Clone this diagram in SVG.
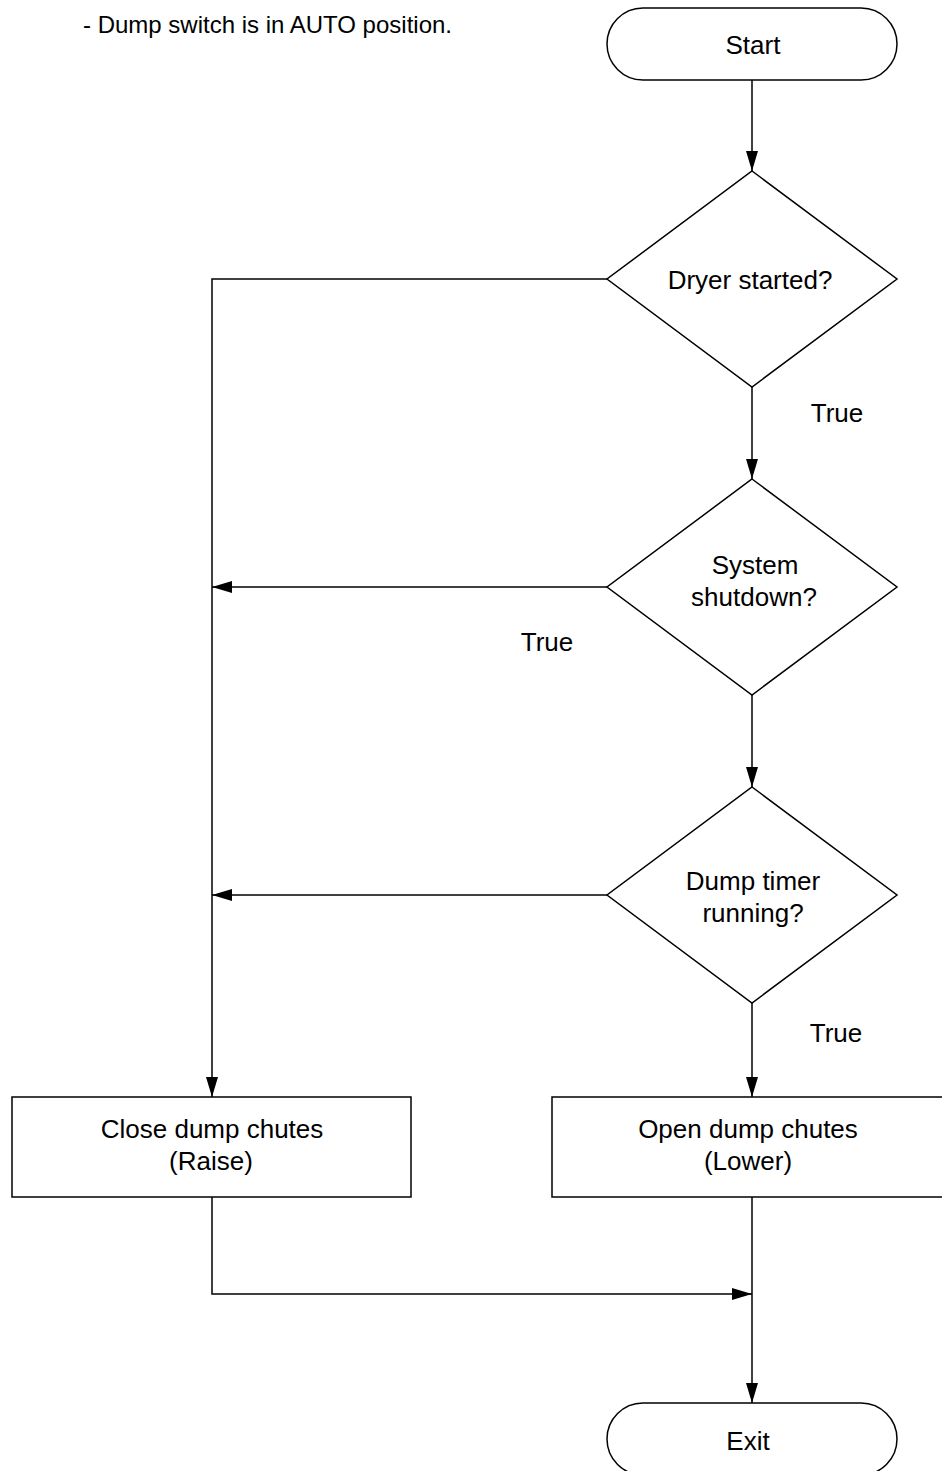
<svg xmlns="http://www.w3.org/2000/svg" width="942" height="1471" viewBox="0 0 942 1471">
<defs>
<marker id="ah" markerWidth="20" markerHeight="12" refX="20" refY="6" orient="auto" markerUnits="userSpaceOnUse">
<path d="M0,0 L20,6 L0,12 Z" fill="#000"/>
</marker>
<style>
.s{fill:#fff;stroke:#000;stroke-width:1.5}
.c{fill:none;stroke:#000;stroke-width:1.5}
text{font-family:"Liberation Sans",Arial,sans-serif;font-size:26px;fill:#000}
.t{font-size:24px}
.m{text-anchor:middle}
</style>
</defs>
<rect width="942" height="1471" fill="#fff"/>
<text x="83" y="33" class="t">- Dump switch is in AUTO position.</text>
<g id="connectors">
<path class="c" d="M752,80 V171" marker-end="url(#ah)"/>
<path class="c" d="M752,387 V479" marker-end="url(#ah)"/>
<path class="c" d="M752,695 V787" marker-end="url(#ah)"/>
<path class="c" d="M752,1003 V1097" marker-end="url(#ah)"/>
<path class="c" d="M607,279 H212 V1097" marker-end="url(#ah)"/>
<path class="c" d="M607,587 H212" marker-end="url(#ah)"/>
<path class="c" d="M607,895 H212" marker-end="url(#ah)"/>
<path class="c" d="M212,1197 V1294 H752" marker-end="url(#ah)"/>
<path class="c" d="M752,1197 V1403" marker-end="url(#ah)"/>
<text x="837" y="422" class="m">True</text>
<text x="547" y="651" class="m">True</text>
<text x="836" y="1042" class="m">True</text>
</g>
<g id="start">
<rect class="s" x="607" y="8" width="290" height="72" rx="36" ry="36"/>
<text x="753" y="54" class="m">Start</text>
</g>
<g id="dryer">
<polygon class="s" points="752,171 897,279 752,387 607,279"/>
<text x="750" y="289" class="m">Dryer started?</text>
</g>
<g id="shutdown">
<polygon class="s" points="752,479 897,587 752,695 607,587"/>
<text x="755" y="574" class="m">System</text>
<text x="754" y="606" class="m">shutdown?</text>
</g>
<g id="timer">
<polygon class="s" points="752,787 897,895 752,1003 607,895"/>
<text x="753" y="890" class="m">Dump timer</text>
<text x="753" y="922" class="m">running?</text>
</g>
<g id="close">
<rect class="s" x="12" y="1097" width="399" height="100"/>
<text x="212" y="1138" class="m">Close dump chutes</text>
<text x="211" y="1170" class="m">(Raise)</text>
</g>
<g id="open">
<rect class="s" x="552" y="1097" width="399" height="100"/>
<text x="748" y="1138" class="m">Open dump chutes</text>
<text x="748" y="1170" class="m">(Lower)</text>
</g>
<g id="exit">
<rect class="s" x="607" y="1403" width="290" height="72" rx="36" ry="36"/>
<text x="748" y="1450" class="m">Exit</text>
</g>
</svg>
